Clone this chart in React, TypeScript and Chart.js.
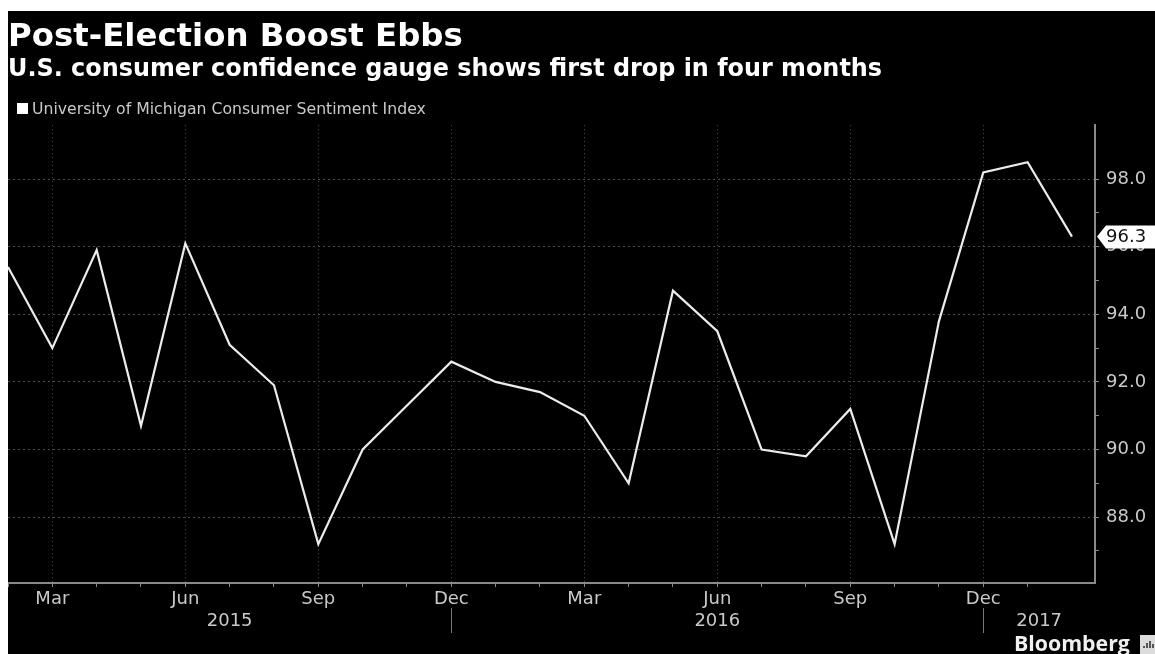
import React, { useEffect, useRef } from "react";
import { Chart, registerables } from "chart.js";

Chart.register(...registerables);

const months = [
  "Feb", "Mar", "Apr", "May", "Jun", "Jul", "Aug", "Sep", "Oct", "Nov", "Dec", "Jan",
  "Feb", "Mar", "Apr", "May", "Jun", "Jul", "Aug", "Sep", "Oct", "Nov", "Dec", "Jan", "Feb",
];
const sentiment = [
  95.4, 93.0, 95.9, 90.7, 96.1, 93.1, 91.9, 87.2, 90.0, 91.3, 92.6, 92.0,
  91.7, 91.0, 89.0, 94.7, 93.5, 90.0, 89.8, 91.2, 87.2, 93.8, 98.2, 98.5, 96.3,
];
const labelledMonths = ["Mar", "Jun", "Sep", "Dec"];
const years = ["2015", "2016", "2017"];
const yearBreaks = [10, 22];
const seriesName = "University of Michigan Consumer Sentiment Index";
const headline = "Post-Election Boost Ebbs";
const subhead = "U.S. consumer confidence gauge shows first drop in four months";
const credit = "Bloomberg";

const FONT = "'DejaVu Sans', sans-serif";
const AXIS_TEXT = "#c9c9c9";
const AXIS_LINE = "#8a8a8a";
const GRID = "#4c4c4c";
const LINE = "#ececec";

// Legend key, year band under the month labels, closing-value flag and credit line.
const furniture = {
  id: "furniture",
  afterDraw(chart: any) {
    const { ctx, chartArea, scales } = chart;
    const x = scales.x;
    const y = scales.y;
    ctx.save();

    ctx.fillStyle = "#ffffff";
    ctx.fillRect(9, 92, 11, 11);
    ctx.fillStyle = AXIS_TEXT;
    ctx.font = `15.7px ${FONT}`;
    ctx.textAlign = "left";
    ctx.textBaseline = "middle";
    ctx.fillText(chart.data.datasets[0].label, 24, 99);

    const edges = [chartArea.left, ...yearBreaks.map((i) => x.getPixelForValue(i)), chartArea.right];
    ctx.font = `18px ${FONT}`;
    ctx.textAlign = "center";
    years.forEach((year, i) => {
      ctx.fillText(year, (edges[i] + edges[i + 1]) / 2, 610);
    });
    ctx.strokeStyle = "#777777";
    ctx.lineWidth = 1;
    yearBreaks.forEach((i) => {
      const px = Math.round(x.getPixelForValue(i)) + 0.5;
      ctx.beginPath();
      ctx.moveTo(px, 597);
      ctx.lineTo(px, 622);
      ctx.stroke();
    });

    const last = sentiment[sentiment.length - 1];
    const fy = y.getPixelForValue(last);
    const fx = chartArea.right + 2;
    ctx.fillStyle = "#ffffff";
    ctx.beginPath();
    ctx.moveTo(fx, fy);
    ctx.lineTo(fx + 9, fy - 11);
    ctx.lineTo(1147, fy - 11);
    ctx.lineTo(1147, fy + 12);
    ctx.lineTo(fx + 9, fy + 12);
    ctx.closePath();
    ctx.fill();
    ctx.fillStyle = "#111111";
    ctx.font = `18px ${FONT}`;
    ctx.textAlign = "left";
    ctx.fillText(last.toFixed(1), fx + 9, fy + 1);

    ctx.fillStyle = "#f0f0f0";
    ctx.font = `bold 21.3px 'Open Sans', ${FONT}`;
    ctx.textBaseline = "alphabetic";
    ctx.fillText(credit, 1006, 640);
    ctx.fillStyle = "#dcdcdc";
    ctx.fillRect(1132, 624, 15, 19);
    ctx.fillStyle = "#555555";
    [[1135, 635, 2], [1138, 632, 5], [1141, 630, 7], [1144, 633, 4]].forEach(([bx, by, bh]) => {
      ctx.fillRect(bx, by, 2, bh);
    });
    ctx.restore();
  },
};

export default function App() {
  const ref = useRef<HTMLCanvasElement>(null);

  useEffect(() => {
    const chart = new Chart(ref.current!, {
      type: "line",
      data: {
        datasets: [
          {
            label: seriesName,
            data: sentiment.map((v, i) => ({ x: i, y: v })),
            borderColor: LINE,
            borderWidth: 2.2,
            pointRadius: 0,
            tension: 0,
          },
        ],
      },
      options: {
        responsive: false,
        animation: false,
        layout: { padding: 0 },
        plugins: {
          legend: { display: false },
          tooltip: { enabled: false },
          title: {
            display: true,
            text: headline,
            align: "start",
            color: "#ffffff",
            font: { family: FONT, size: 32.4, weight: "bold", lineHeight: 1 },
            padding: { top: 9.9, bottom: 4.9 },
          },
          subtitle: {
            display: true,
            text: subhead,
            align: "start",
            color: "#ffffff",
            font: { family: FONT, size: 23.9, weight: "bold", lineHeight: 1 },
            padding: { top: 0, bottom: 43 },
          },
        },
        scales: {
          x: {
            type: "linear",
            min: 0,
            max: 24.52,
            afterFit: (s: any) => {
              s.height = 71;
              // The series runs flush to the panel's left edge.
              s.paddingLeft = 0;
              s.paddingRight = 0;
            },
            border: { color: AXIS_LINE, width: 2, dash: [1, 3] },
            grid: {
              tickLength: 4,
              color: (c: any) =>
                labelledMonths.includes(months[c.tick?.value]) ? GRID : "transparent",
              tickColor: (c: any) =>
                Number.isInteger(c.tick?.value) ? AXIS_LINE : "transparent",
            },
            ticks: {
              stepSize: 1,
              autoSkip: false,
              maxRotation: 0,
              padding: 2,
              color: AXIS_TEXT,
              font: { family: FONT, size: 18 },
              callback: (v: any) =>
                labelledMonths.includes(months[v]) ? months[v] : "",
            },
          },
          y: {
            type: "linear",
            position: "right",
            min: 86.05,
            max: 99.6,
            afterFit: (s: any) => {
              s.width = 60;
            },
            border: { color: AXIS_LINE, width: 2, dash: [2, 3] },
            grid: {
              tickLength: 4,
              color: (c: any) =>
                Number.isInteger(c.tick?.value) && c.tick.value % 2 === 0 ? GRID : "transparent",
              tickColor: (c: any) =>
                Number.isInteger(c.tick?.value) ? AXIS_LINE : "transparent",
            },
            ticks: {
              stepSize: 1,
              autoSkip: false,
              padding: 7,
              color: AXIS_TEXT,
              font: { family: FONT, size: 18 },
              callback: (v: any) =>
                Number.isInteger(v) && v % 2 === 0 ? v.toFixed(1) : "",
            },
          },
        },
      },
      plugins: [furniture],
    } as any);
    return () => chart.destroy();
  }, []);

  return (
    <canvas
      ref={ref}
      width={1147}
      height={643}
      style={{ position: "absolute", left: 8, top: 11, background: "#000" }}
    />
  );
}
